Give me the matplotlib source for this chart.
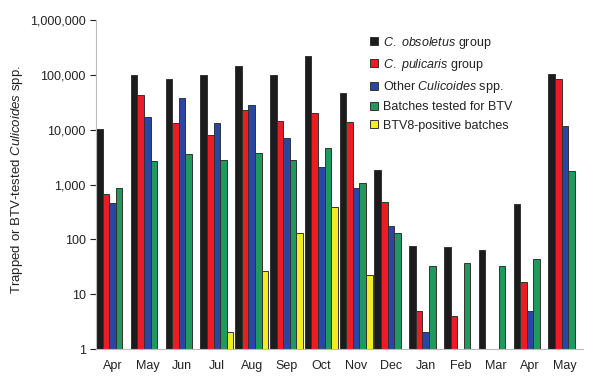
import numpy as np
import matplotlib
matplotlib.use("Agg")
import matplotlib.pyplot as plt
from matplotlib.lines import Line2D

plt.rcParams['font.family'] = ['Liberation Sans', 'DejaVu Sans']
plt.rcParams['mathtext.fontset'] = 'custom'
plt.rcParams['mathtext.rm'] = 'Liberation Sans'
plt.rcParams['mathtext.it'] = 'Liberation Sans:italic'

months = ["Apr", "May", "Jun", "Jul", "Aug", "Sep", "Oct", "Nov", "Dec",
          "Jan", "Feb", "Mar", "Apr", "May"]
obsoletus = [10500, 100000, 85000, 100000, 145000, 100000, 224000, 46500, 1850,
             75, 72, 64, 445, 104000]
pulicaris = [670, 43000, 13100, 8100, 23000, 14200, 20500, 13800, 480,
             5, 4, np.nan, 17, 85000]
other = [465, 17000, 38600, 13100, 28700, 7000, 2080, 880, 178,
         2, np.nan, np.nan, 5, 11700]
tested = [880, 2740, 3620, 2840, 3800, 2840, 4660, 1080, 131,
          33, 36.6, 33, 43, 1800]
positive = [np.nan, np.nan, np.nan, 2, 26, 130, 395, 22, np.nan,
            np.nan, np.nan, np.nan, np.nan, np.nan]

series = [obsoletus, pulicaris, other, tested, positive]
colors = ["#1c1c1c", "#ec1c24", "#2b45a5", "#1f9a5c", "#f2ec24"]
labels = [r"$\it{C.\ obsoletus}$ group", r"$\it{C.\ pulicaris}$ group",
          r"Other $\it{Culicoides}$ spp.", "Batches tested for BTV",
          "BTV8-positive batches"]

fig = plt.figure(figsize=(6, 3.85), dpi=100)
ax = fig.add_axes([0.16, 0.0935, 0.812, 0.8545])

x = np.arange(len(months))
w = 0.19
for j, (vals, c) in enumerate(zip(series, colors)):
    ax.bar(x + (j - 2) * w, vals, width=w, color=c, edgecolor="#333333",
           linewidth=0.7, bottom=0, zorder=2)

ax.set_yscale("log")
ax.set_ylim(1, 1e6)
ax.set_xlim(-0.475, len(months) - 0.475)
ax.set_yticks([1, 10, 100, 1000, 10000, 100000, 1000000])
ax.set_yticklabels(["1", "10", "100", "1,000", "10,000", "100,000", "1,000,000"])
ax.yaxis.set_minor_locator(matplotlib.ticker.NullLocator())
ax.set_xticks(x)
ax.set_xticklabels(months)
ax.tick_params(axis="x", length=0, labelsize=9, pad=8, colors="#222222")
ax.tick_params(axis="y", length=4, width=0.8, labelsize=9, colors="#222222")
for t in ax.yaxis.get_ticklines():
    t.set_color("#aaaaaa")
for s in ["top", "right"]:
    ax.spines[s].set_visible(False)
for s in ["left", "bottom"]:
    ax.spines[s].set_color("#bbbbbb")
    ax.spines[s].set_linewidth(0.8)

ax.set_ylabel(r"Trapped or BTV-tested $\it{Culicoides}$ spp.", fontsize=9.5,
              color="#222222")
ax.yaxis.set_label_coords(-0.146, 0.515)

handles = [Line2D([], [], marker="s", linestyle="none", markersize=6,
                  markerfacecolor=c, markeredgecolor="#333333", markeredgewidth=0.7)
           for c in colors]
leg = ax.legend(handles, labels, loc="upper left", bbox_to_anchor=(0.535, 0.99),
                frameon=False, fontsize=9, handletextpad=0.2,
                labelspacing=0.5, handlelength=1.0)
for t in leg.get_texts():
    t.set_color("#222222")

fig.savefig("out.png", dpi=100)
